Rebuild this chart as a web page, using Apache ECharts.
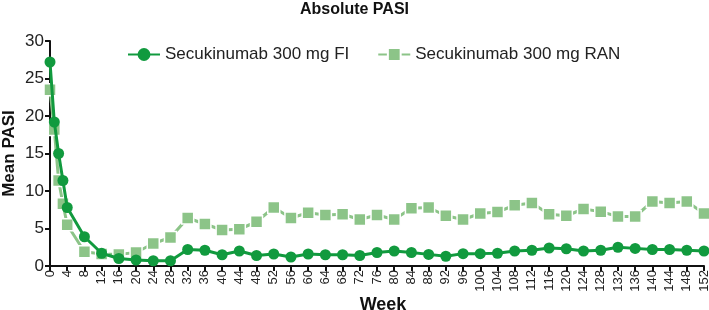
<!DOCTYPE html>
<html>
<head>
<meta charset="utf-8">
<script src="https://cdn.jsdelivr.net/npm/echarts@6/dist/echarts.min.js"></script>
<style>
  html, body { margin: 0; padding: 0; background: #fff; }
  #chart { width: 709px; height: 310px; }
</style>
</head>
<body>
<div id="chart"></div>
<script>
// weeks and mean PASI
const weeks = [0, 1, 2, 3, 4, 8, 12, 16, 20, 24, 28, 32, 36, 40, 44, 48, 52, 56, 60, 64, 68,
  72, 76, 80, 84, 88, 92, 96, 100, 104, 108, 112, 116, 120, 124, 128, 132, 136, 140, 144, 148, 152]
const fiValues = [27.2, 19.2, 15.0, 11.4, 7.8, 3.9, 1.7, 1.0, 0.8, 0.7, 0.7, 2.2, 2.1, 1.5, 2.0, 1.4, 1.6, 1.2, 1.6, 1.5, 1.5,
  1.4, 1.8, 2.0, 1.8, 1.55, 1.3, 1.65, 1.65, 1.7, 2.0, 2.1, 2.4, 2.3, 2.0, 2.1, 2.5, 2.35, 2.2, 2.2, 2.1, 2.0]
const ranValues = [23.5, 18.2, 11.4, 8.3, 5.5, 1.9, 1.6, 1.55, 1.8, 3.0, 3.8, 6.4, 5.6, 4.8, 4.9, 5.9, 7.8, 6.4, 7.1, 6.8, 6.9,
  6.2, 6.8, 6.2, 7.7, 7.8, 6.7, 6.2, 7.0, 7.2, 8.1, 8.4, 6.9, 6.7, 7.6, 7.25, 6.6, 6.6, 8.6, 8.4, 8.6, 7.0]
const seriesNames = ['Secukinumab 300 mg FI', 'Secukinumab 300 mg RAN']

const chart = echarts.init(document.getElementById('chart'))

const axisLine = { show: true, lineStyle: { color: '#111', width: 2 } }
const axisTick = { show: true, length: 5, lineStyle: { color: '#111', width: 2 } }

const option = {
  animation: false,
  title: {
    text: 'Absolute PASI',
    left: 'center',
    top: -3,
    textStyle: { color: '#111', fontSize: 16, fontWeight: 'bold', fontFamily: 'Liberation Sans' }
  },
  legend: {
    data: seriesNames,
    left: 122,
    top: 41,
    itemWidth: 32,
    itemHeight: 16,
    itemGap: 28,
    textStyle: { color: '#222', fontSize: 17, fontFamily: 'Liberation Sans' }
  },
  grid: { left: 50, right: 5, top: 41, bottom: 44, outerBoundsMode: 'none' },
  xAxis: {
    type: 'value',
    min: 0,
    max: 152,
    interval: 4,
    name: 'Week',
    nameLocation: 'middle',
    nameGap: 30,
    nameMoveOverlap: false,
    nameTextStyle: { color: '#111', fontSize: 18, fontWeight: 'bold', fontFamily: 'Liberation Sans', padding: [0, 0, 0, 12] },
    axisLine: axisLine,
    axisTick: axisTick,
    splitLine: { show: false },
    axisLabel: { rotate: 90, color: '#222', fontSize: 13, margin: 4, fontFamily: 'Liberation Sans' }
  },
  yAxis: {
    type: 'value',
    min: 0,
    max: 30,
    interval: 5,
    name: 'Mean PASI',
    nameLocation: 'middle',
    nameGap: 32,
    nameMoveOverlap: false,
    nameTextStyle: { color: '#111', fontSize: 17, fontWeight: 'bold', fontFamily: 'Liberation Sans' },
    axisLine: axisLine,
    axisTick: axisTick,
    splitLine: { show: false },
    axisLabel: { color: '#222', fontSize: 17, margin: 6, fontFamily: 'Liberation Sans' }
  },
  series: [
    {
      name: seriesNames[1],
      type: 'line',
      data: weeks.map((w, i) => [w, ranValues[i]]),
      symbol: 'rect',
      symbolSize: 12,
      lineStyle: { color: '#8cc488', width: 3 },
      itemStyle: { color: '#8cc488', borderColor: '#fff', borderWidth: 1.5 },
      z: 2
    },
    {
      name: seriesNames[0],
      type: 'line',
      data: weeks.map((w, i) => [w, fiValues[i]]),
      symbol: 'circle',
      symbolSize: 11,
      lineStyle: { color: '#119a3e', width: 3 },
      itemStyle: { color: '#119a3e' },
      z: 3
    }
  ]
}

chart.setOption(option)
</script>
</body>
</html>
